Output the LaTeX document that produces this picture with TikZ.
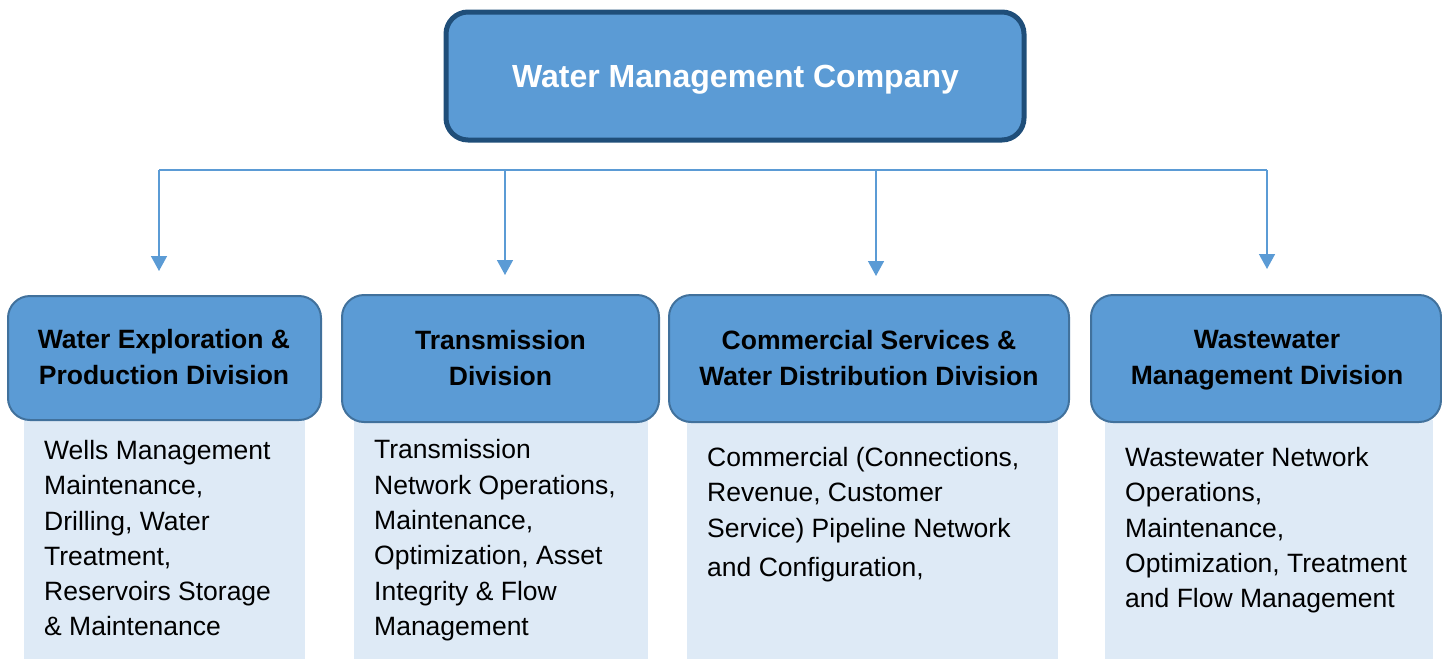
\documentclass[tikz,border=0pt]{standalone}
\usepackage{fontspec}
\setmainfont{Liberation Sans}
\usetikzlibrary{arrows.meta}
\definecolor{boxblue}{HTML}{5B9BD5}
\definecolor{topedge}{HTML}{1F4E79}
\definecolor{divedge}{HTML}{41719C}
\definecolor{paneblue}{HTML}{DEEAF6}
\tikzset{
  topbox/.style={draw=topedge, line width=5pt, fill=boxblue, rounded corners=22pt},
  divbox/.style={draw=divedge, line width=2pt, fill=boxblue, rounded corners=22pt},
  pane/.style={fill=paneblue, draw=none},
  divtitle/.style={font=\fontsize{26.5}{36}\selectfont\bfseries, align=center, text=black, inner sep=0pt},
  duties/.style={font=\fontsize{26.5}{35.3}\selectfont, align=left, text=black, inner sep=0pt, anchor=north west},
  bus/.style={draw=boxblue, line width=1.5pt},
  feed/.style={draw=boxblue, line width=1.5pt, -{Triangle[width=16pt,length=15pt]}}
}
\begin{document}
\begin{tikzpicture}[x=1pt, y=-1pt]
\useasboundingbox (0,0) rectangle (1442,659);

% head office
\draw[topbox] (446,12) rectangle (1024,140);
\node[text=white, font=\fontsize{32}{36}\selectfont\bfseries, inner sep=0pt] (head) at (735.5,80) {Water Management Company};

% distribution bus and arrows
\coordinate (b1) at (159,170);
\coordinate (b2) at (505,170);
\coordinate (b3) at (876,170);
\coordinate (b4) at (1267,170);
\coordinate (t1) at (159,271);
\coordinate (t2) at (505,275);
\coordinate (t3) at (876,276);
\coordinate (t4) at (1267,269);
\draw[bus] (b1) -- (b4);
\draw[feed] (b1) -- (t1);
\draw[feed] (b2) -- (t2);
\draw[feed] (b3) -- (t3);
\draw[feed] (b4) -- (t4);

% duty panes
\fill[pane] (24,418) rectangle (305,659);
\fill[pane] (354,420) rectangle (648,659);
\fill[pane] (687,420) rectangle (1058,659);
\fill[pane] (1105,420) rectangle (1433,659);

% division boxes
\draw[divbox] (8,296) rectangle (321,420);
\draw[divbox] (342,295) rectangle (659,422);
\draw[divbox] (669,295) rectangle (1069,422);
\draw[divbox] (1091,295) rectangle (1441,422);

\node[divtitle] (d1) at (164,357) {Water Exploration \&\\Production Division};
\node[divtitle] (d2) at (500.5,358) {Transmission\\Division};
\node[divtitle] (d3) at (869,358) {Commercial Services \&\\Water Distribution Division};
\node[divtitle] (d4) at (1267,360.5) {Wastewater\\Management Division};

% duties of each division
\node[duties] (u1) at (44,440) {Wells Management\\Maintenance,\\Drilling, Water\\Treatment,\\Reservoirs Storage\\\& Maintenance};
\node[duties] (u2) at (374,439.5) {Transmission\\Network Operations,\\Maintenance,\\Optimization, Asset\\Integrity \& Flow\\Management};
\node[duties] (u3) at (707,447) {Commercial (Connections,\\Revenue, Customer\\Service) Pipeline Network\\[4.5pt]and Configuration,};
\node[duties] (u4) at (1125,447) {Wastewater Network\\Operations,\\Maintenance,\\Optimization, Treatment\\and Flow Management};
\end{tikzpicture}
\end{document}
